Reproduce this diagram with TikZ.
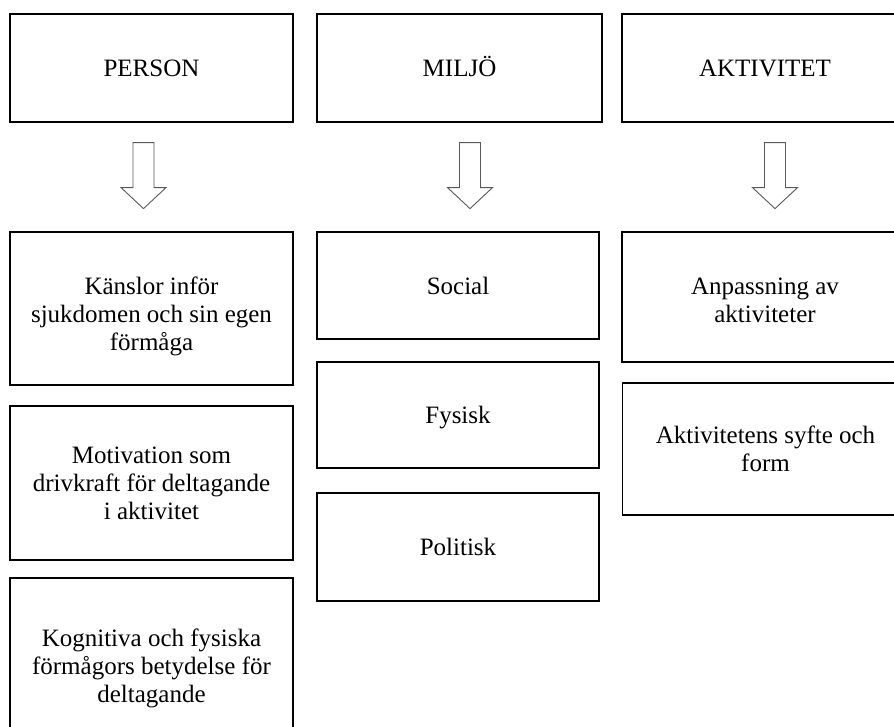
\documentclass[tikz,border=0pt]{standalone}
\usepackage{fontspec}
\setmainfont{Liberation Serif}
\usetikzlibrary{calc}

\tikzset{
    ruta/.style={draw, line width=0.6pt, align=center, inner sep=0pt,
        font=\fontsize{12.5}{14}\selectfont},
    rubrik/.style={ruta, minimum height=54pt, text height=8.4pt, text depth=0.2pt},
    pil/.style={draw=black!65, line width=0.45pt, fill=white},
}

\begin{document}
\begin{tikzpicture}[x=0.5pt, y=-0.5pt]
        \clip (0,0) rectangle (894,727);

        % rubriker
        \node[rubrik, minimum width=141.5pt] (person) at (151.5,68) {PERSON};
        \node[rubrik, minimum width=142.5pt] (miljo) at (459.5,68) {MILJÖ};
        \node[rubrik, minimum width=143pt] (aktivitet) at (765,68) {AKTIVITET};

        % person
        \node[ruta, minimum width=141.5pt, minimum height=76.5pt] (kanslor) at (151.5,308.5)
            {\rule{0pt}{17pt}Känslor inför\\sjukdomen och sin egen\\förmåga};
        \node[ruta, minimum width=141.5pt, minimum height=77pt] (motivation) at (151.5,483)
            {Motivation som\\drivkraft för deltagande\\i aktivitet};
        \node[ruta, minimum width=141.5pt, minimum height=90.5pt] (kognitiva) at (151.5,668.5)
            {Kognitiva och fysiska\\förmågors betydelse för\\deltagande};

        % miljö
        \node[ruta, minimum width=141pt, minimum height=53.5pt] (social) at (458,285.5) {Social};
        \node[ruta, minimum width=141pt, minimum height=53pt] (fysisk) at (458,415) {\rule{0pt}{11pt}Fysisk};
        \node[ruta, minimum width=141pt, minimum height=54pt] (politisk) at (458,547) {Politisk};

        % aktivitet
        \node[ruta, minimum width=143pt, minimum height=65pt] (anpassning) at (765,297)
            {\rule{0pt}{12pt}Anpassning av\\aktiviteter};
        \node[ruta, minimum width=143pt, minimum height=66pt] (syfte) at (765.5,449)
            {Aktivitetens syfte och\\form};

        % pilar
        \foreach \n/\dx in {person/-8, miljo/10.5, aktivitet/10}
            \draw[pil] ($(\n.south)+(\dx-10.5,20)$) -- ++(21,0) -- ++(0,45) -- ++(12,0)
                -- ++(-22.5,21) -- ++(-22.5,-21) -- ++(12,0) -- cycle;
\end{tikzpicture}
\end{document}
